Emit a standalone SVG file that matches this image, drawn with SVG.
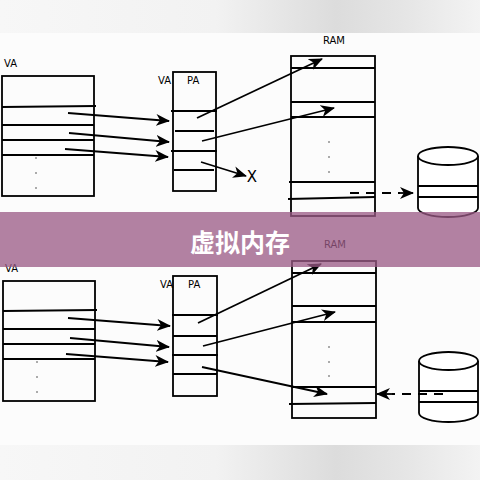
<svg xmlns="http://www.w3.org/2000/svg" width="480" height="480" viewBox="0 0 480 480">
<defs>
<linearGradient id="band" x1="0" y1="0" x2="1" y2="0">
<stop offset="0" stop-color="#f7f7f7"/>
<stop offset="0.45" stop-color="#f2f2f2"/>
<stop offset="0.7" stop-color="#dcdcdc"/>
<stop offset="0.85" stop-color="#e6e6e6"/>
<stop offset="1" stop-color="#f3f3f3"/>
</linearGradient>
<marker id="ah" markerUnits="userSpaceOnUse" markerWidth="14" markerHeight="12" refX="13" refY="6" orient="auto">
<path d="M0,0 L14,6 L0,12 L4,6 z" fill="#000"/>
</marker>
</defs>
<style>
.box{fill:none;stroke:#000;stroke-width:1.8}
.ln{stroke:#000;stroke-width:1.8;fill:none}
.arr{stroke:#000;stroke-width:1.8;fill:none;marker-end:url(#ah)}
.dash{stroke:#000;stroke-width:1.8;fill:none;stroke-dasharray:9,7}
.lbl{font-family:"DejaVu Sans","Liberation Sans",sans-serif;font-size:10px;fill:#000}
.dot{fill:#444}
.cyl{fill:#fff;stroke:#000;stroke-width:1.8}
</style>
<rect width="480" height="480" fill="#fcfcfc"/>
<rect x="0" y="0" width="480" height="33" fill="url(#band)"/>
<rect x="0" y="445" width="480" height="35" fill="url(#band)"/>

<!-- Top diagram -->
<g id="top-va">
<text class="lbl" x="4" y="67">VA</text>
<rect class="box" x="2" y="76" width="92" height="120"/>
<line class="ln" x1="2" y1="107" x2="96" y2="106"/>
<line class="ln" x1="2" y1="125" x2="94" y2="125"/>
<line class="ln" x1="2" y1="140" x2="94" y2="140"/>
<line class="ln" x1="2" y1="155" x2="94" y2="155"/>
<circle class="dot" cx="36" cy="158" r="0.8"/>
<circle class="dot" cx="36" cy="173" r="0.8"/>
<circle class="dot" cx="36" cy="188" r="0.8"/>
</g>
<g id="top-pa">
<text class="lbl" x="158" y="84">VA</text>
<text class="lbl" x="187" y="84">PA</text>
<rect class="box" x="173" y="72" width="43" height="119"/>
<line class="ln" x1="171" y1="111" x2="217" y2="111"/>
<line class="ln" x1="175" y1="131" x2="214" y2="131"/>
<line class="ln" x1="171" y1="151" x2="217" y2="151"/>
<line class="ln" x1="174" y1="170" x2="214" y2="170"/>
</g>
<g id="top-ram">
<text class="lbl" x="334" y="44" text-anchor="middle">RAM</text>
<rect class="box" x="291" y="56" width="84" height="160"/>
<line class="ln" x1="291" y1="68" x2="375" y2="68"/>
<line class="ln" x1="291" y1="102" x2="375" y2="102"/>
<line class="ln" x1="291" y1="117" x2="375" y2="117"/>
<line class="ln" x1="289" y1="182" x2="375" y2="182"/>
<line class="ln" x1="288" y1="199" x2="375" y2="197"/>
<circle class="dot" cx="329" cy="142" r="0.8"/>
<circle class="dot" cx="329" cy="157" r="0.8"/>
<circle class="dot" cx="329" cy="172" r="0.8"/>
</g>
<g id="top-disk">
<path class="cyl" d="M418,156 L418,208 A30,9 0 0 0 478,208 L478,156"/>
<ellipse class="cyl" cx="448" cy="156" rx="30" ry="9"/>
<line class="ln" x1="418" y1="186" x2="478" y2="186"/>
<line class="ln" x1="418" y1="197" x2="478" y2="197"/>
</g>
<g id="top-x">
<text x="252" y="182" text-anchor="middle" style="font-family:'DejaVu Sans','Liberation Sans',sans-serif;font-size:15px;fill:#000">X</text>
</g>

<!-- Bottom diagram -->
<g id="bot-va">
<text class="lbl" x="5" y="272">VA</text>
<rect class="box" x="3" y="281" width="92" height="120"/>
<line class="ln" x1="3" y1="311" x2="97" y2="310"/>
<line class="ln" x1="3" y1="329" x2="95" y2="329"/>
<line class="ln" x1="3" y1="344" x2="95" y2="344"/>
<line class="ln" x1="3" y1="359" x2="95" y2="359"/>
<circle class="dot" cx="37" cy="362" r="0.8"/>
<circle class="dot" cx="37" cy="377" r="0.8"/>
<circle class="dot" cx="37" cy="392" r="0.8"/>
</g>
<g id="bot-pa">
<text class="lbl" x="160" y="288">VA</text>
<text class="lbl" x="188" y="288">PA</text>
<rect class="box" x="173" y="276" width="44" height="120"/>
<line class="ln" x1="172" y1="315" x2="218" y2="315"/>
<line class="ln" x1="173" y1="336" x2="217" y2="336"/>
<line class="ln" x1="172" y1="355" x2="218" y2="355"/>
<line class="ln" x1="173" y1="374" x2="217" y2="374"/>
</g>
<g id="bot-ram">
<text class="lbl" x="335" y="248" text-anchor="middle">RAM</text>
<rect class="box" x="292" y="261" width="84" height="157"/>
<line class="ln" x1="292" y1="273" x2="376" y2="273"/>
<line class="ln" x1="292" y1="306" x2="376" y2="306"/>
<line class="ln" x1="292" y1="322" x2="376" y2="322"/>
<line class="ln" x1="292" y1="387" x2="376" y2="387"/>
<line class="ln" x1="289" y1="404" x2="376" y2="403"/>
<circle class="dot" cx="329" cy="347" r="0.8"/>
<circle class="dot" cx="329" cy="362" r="0.8"/>
<circle class="dot" cx="329" cy="376" r="0.8"/>
</g>
<g id="bot-disk">
<path class="cyl" d="M419,361 L419,413 A29.5,9 0 0 0 478,413 L478,361"/>
<ellipse class="cyl" cx="448.5" cy="361" rx="29.5" ry="9"/>
<line class="ln" x1="419" y1="391" x2="478" y2="391"/>
<line class="ln" x1="419" y1="402" x2="478" y2="402"/>
</g>

<g id="connectors">
<line class="arr" x1="68" y1="113" x2="169" y2="121"/>
<line class="arr" x1="69" y1="133" x2="169" y2="142"/>
<line class="arr" x1="65" y1="149" x2="168" y2="157"/>
<line class="arr" x1="197" y1="118" x2="322" y2="59"/>
<line class="arr" x1="202" y1="141" x2="334" y2="108"/>
<line class="arr" x1="201" y1="162" x2="246" y2="176"/>
<line class="dash" x1="350" y1="193" x2="400" y2="193"/>
<line class="arr" x1="400" y1="193" x2="413" y2="193"/>

<line class="arr" x1="68" y1="318" x2="170" y2="326"/>
<line class="arr" x1="70" y1="338" x2="169" y2="347"/>
<line class="arr" x1="66" y1="354" x2="168" y2="362"/>
<line class="arr" x1="198" y1="323" x2="321" y2="264"/>
<line class="arr" x1="203" y1="346" x2="335" y2="312"/>
<line class="arr" x1="202" y1="367" x2="327" y2="394"/>
<line class="dash" x1="443" y1="394" x2="392" y2="394"/>
<line class="arr" x1="392" y1="394" x2="377" y2="394"/>
</g>

<g id="banner">
<rect x="0" y="212" width="480" height="55" fill="#9a5a85" opacity="0.76"/>
<text x="240" y="252" text-anchor="middle" style="font-family:'Noto Sans CJK SC',sans-serif;font-weight:bold;font-size:25px;fill:#fff">虚拟内存</text>
</g>
</svg>
